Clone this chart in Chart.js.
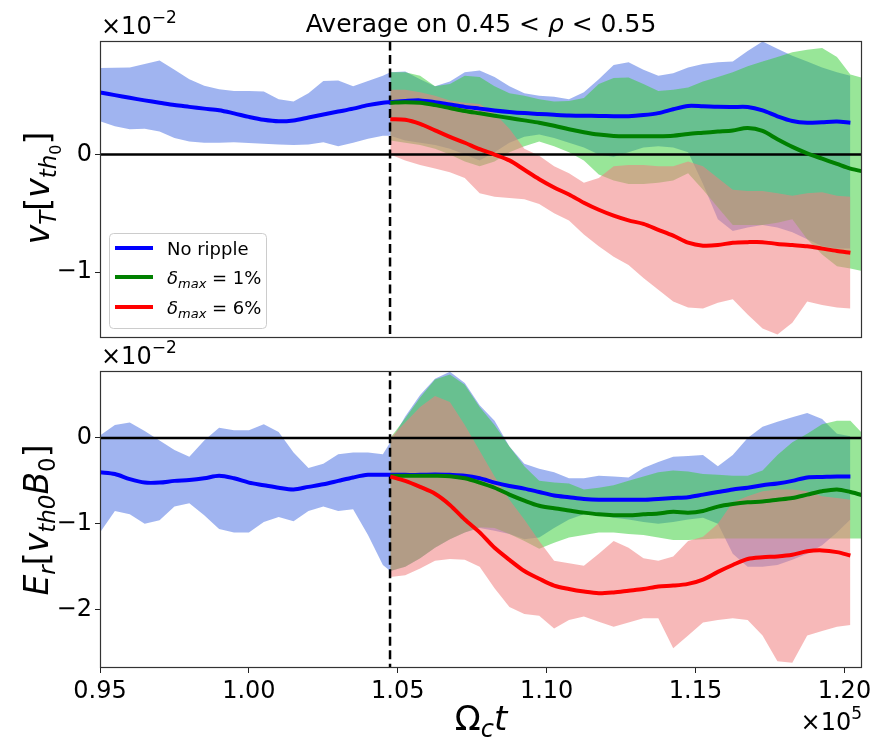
<!DOCTYPE html>
<html>
<head>
<meta charset="utf-8">
<script src="https://cdn.jsdelivr.net/npm/chart.js@4.4.1/dist/chart.umd.min.js"></script>
<style>
  body { margin: 0; background: #fff; }
  #wrap { position: relative; width: 879px; height: 737px; }
  canvas { position: absolute; left: 0; top: 0; }
</style>
</head>
<body>
<div id="wrap">
  <canvas id="cTop" width="879" height="737"></canvas>
  <canvas id="cBot" width="879" height="737"></canvas>
</div>
<script>
/* ---------- time grids (units of 1e5 / Omega_c) ---------- */
const tPre = [0.950, 0.955, 0.960, 0.965, 0.970, 0.975, 0.980, 0.985, 0.990, 0.995,
              1.000, 1.005, 1.010, 1.015, 1.020, 1.025, 1.030, 1.035, 1.040, 1.045];
const tRip = [1.0475, 1.0525, 1.0575, 1.0625, 1.0675, 1.0725, 1.0775, 1.0825, 1.0875, 1.0925,
              1.0975, 1.1025, 1.1075, 1.1125, 1.1175, 1.1225, 1.1275, 1.1325, 1.1375, 1.1425,
              1.1475, 1.1525, 1.1575, 1.1625, 1.1675, 1.1725, 1.1775, 1.1825, 1.1875, 1.1925,
              1.1975, 1.2020];
const tBlue = tPre.concat(tRip);
const tGreen = tRip.concat([1.2075]);
const tRed = tRip;
const tCut = 1.0474;
const xTicks = [0.95, 1.00, 1.05, 1.10, 1.15, 1.20];

/* ---------- top panel: v_T (x1e-2) ---------- */
const vBlue = [0.528, 0.505, 0.482, 0.46, 0.44, 0.42, 0.405, 0.39, 0.377, 0.35,
               0.32, 0.295, 0.282, 0.29, 0.315, 0.34, 0.365, 0.39, 0.42, 0.44,
               0.445, 0.455, 0.46, 0.445, 0.425, 0.405, 0.39, 0.375, 0.362, 0.352,
               0.345, 0.338, 0.332, 0.33, 0.328, 0.326, 0.325, 0.335, 0.352, 0.385,
               0.413, 0.41, 0.405, 0.404, 0.404, 0.375, 0.325, 0.285, 0.27, 0.275,
               0.28, 0.27];
const vBlueHi = [0.735, 0.738, 0.74, 0.77, 0.80, 0.72, 0.64, 0.585, 0.555, 0.54,
                 0.54, 0.535, 0.47, 0.45, 0.52, 0.625, 0.63, 0.58, 0.625, 0.67,
                 0.70, 0.705, 0.64, 0.58, 0.62, 0.70, 0.715, 0.66, 0.58, 0.52,
                 0.50, 0.49, 0.47, 0.53, 0.64, 0.76, 0.785, 0.72, 0.67, 0.69,
                 0.74, 0.77, 0.785, 0.79, 0.88, 0.96, 0.90, 0.84, 0.79, 0.74,
                 0.70, 0.67];
const vBlueLo = [0.282, 0.24, 0.215, 0.22, 0.195, 0.14, 0.11, 0.10, 0.10, 0.104,
                 0.097, 0.092, 0.085, 0.08, 0.085, 0.105, 0.07, 0.10, 0.135, 0.16,
                 0.16, 0.12, 0.10, 0.08, 0.05, 0.0, -0.05, 0.02, 0.10, 0.15,
                 0.17, 0.14, 0.10, 0.06, 0.0, -0.02, 0.02, 0.06, 0.07, 0.06,
                 0.02, -0.25, -0.55, -0.65, -0.62, -0.6, -0.62, -0.66, -0.72, -0.78,
                 -0.8, -0.8];
const vGreen = [0.44, 0.445, 0.44, 0.42, 0.395, 0.37, 0.35, 0.33, 0.31, 0.29,
                0.27, 0.245, 0.215, 0.19, 0.17, 0.158, 0.155, 0.155, 0.155, 0.16,
                0.175, 0.185, 0.195, 0.205, 0.225, 0.2, 0.13, 0.065, 0.01, -0.035,
                -0.08, -0.12, -0.15];
const vGreenHi = [0.70, 0.70, 0.67, 0.58, 0.60, 0.67, 0.66, 0.58, 0.52, 0.50,
                  0.47, 0.45, 0.455, 0.48, 0.60, 0.65, 0.655, 0.60, 0.54, 0.55,
                  0.57, 0.62, 0.66, 0.70, 0.75, 0.79, 0.83, 0.87, 0.89, 0.905,
                  0.83, 0.68, 0.64];
const vGreenLo = [0.12, 0.10, 0.08, 0.05, 0.0, -0.06, -0.1, -0.06, 0.02, 0.07,
                  0.11, 0.07, 0.02, -0.05, -0.17, -0.22, -0.25, -0.25, -0.24, -0.22,
                  -0.16, -0.3, -0.45, -0.6, -0.6, -0.6, -0.58, -0.55, -0.72, -0.85,
                  -0.95, -0.97, -1.0];
const vRed = [0.30, 0.295, 0.26, 0.205, 0.15, 0.10, 0.045, 0.0, -0.05, -0.13,
              -0.21, -0.28, -0.34, -0.41, -0.47, -0.52, -0.56, -0.59, -0.64, -0.69,
              -0.75, -0.775, -0.77, -0.75, -0.745, -0.745, -0.76, -0.77, -0.78, -0.8,
              -0.82, -0.835];
const vRedHi = [0.55, 0.55, 0.53, 0.50, 0.46, 0.44, 0.43, 0.35, 0.22, 0.05,
                -0.01, -0.1, -0.16, -0.24, -0.2, -0.1, -0.09, -0.09, -0.1, -0.1,
                -0.06, -0.1, -0.2, -0.3, -0.31, -0.31, -0.33, -0.35, -0.33, -0.32,
                -0.35, -0.36];
const vRedLo = [0.0, -0.05, -0.09, -0.12, -0.15, -0.2, -0.33, -0.36, -0.37, -0.38,
                -0.42, -0.5, -0.56, -0.68, -0.78, -0.87, -0.94, -1.05, -1.15, -1.25,
                -1.3, -1.31, -1.26, -1.23, -1.36, -1.48, -1.53, -1.43, -1.25, -1.28,
                -1.3, -1.31];

/* ---------- bottom panel: E_r (x1e-2) ---------- */
const eBlue = [-0.40, -0.42, -0.48, -0.52, -0.52, -0.50, -0.49, -0.47, -0.44, -0.47,
               -0.52, -0.55, -0.58, -0.60, -0.57, -0.54, -0.50, -0.46, -0.43, -0.43,
               -0.43, -0.43, -0.43, -0.425, -0.43, -0.44, -0.47, -0.52, -0.56, -0.59,
               -0.63, -0.67, -0.69, -0.71, -0.72, -0.72, -0.72, -0.72, -0.71, -0.70,
               -0.69, -0.66, -0.63, -0.60, -0.58, -0.55, -0.53, -0.50, -0.46, -0.455,
               -0.45, -0.45];
const eBlueHi = [0.03, 0.15, 0.18, 0.08, -0.03, -0.14, -0.22, -0.03, 0.12, 0.09,
                 0.09, 0.16, 0.07, -0.17, -0.35, -0.3, -0.19, -0.17, -0.17, -0.19,
                 -0.05, 0.25, 0.5, 0.69, 0.77, 0.64, 0.38, 0.2, -0.1, -0.3,
                 -0.36, -0.4, -0.47, -0.47, -0.44, -0.45, -0.46, -0.35, -0.28, -0.22,
                 -0.21, -0.20, -0.33, -0.2, 0.0, 0.13, 0.19, 0.24, 0.29, 0.22,
                 0.05, 0.02];
const eBlueLo = [-1.1, -0.85, -0.89, -1.0, -0.96, -0.8, -0.76, -0.9, -1.06, -1.1,
                 -1.1, -0.98, -0.92, -0.97, -0.85, -0.8, -0.85, -0.83, -1.13, -1.48,
                 -1.55, -1.5, -1.4, -1.28, -1.18, -1.1, -1.05, -1.08, -1.12, -1.18,
                 -1.16, -1.05, -0.95, -0.89, -0.9, -0.93, -0.95, -0.98, -1.0, -0.98,
                 -0.95, -0.93, -1.0, -1.35, -1.5, -1.5, -1.48, -1.42, -1.35, -1.25,
                 -1.1, -0.95];
const eGreen = [-0.44, -0.44, -0.44, -0.44, -0.445, -0.47, -0.52, -0.58, -0.66, -0.73,
                -0.79, -0.82, -0.845, -0.87, -0.89, -0.9, -0.9, -0.89, -0.88, -0.86,
                -0.87, -0.85, -0.8, -0.77, -0.75, -0.74, -0.72, -0.7, -0.66, -0.62,
                -0.6, -0.63, -0.68];
const eGreenHi = [0.0, 0.23, 0.47, 0.68, 0.74, 0.62, 0.36, 0.15, -0.1, -0.33,
                  -0.5, -0.52, -0.53, -0.6, -0.58, -0.55, -0.5, -0.45, -0.4, -0.38,
                  -0.39, -0.42, -0.43, -0.44, -0.44, -0.38, -0.2, -0.05, 0.05, 0.16,
                  0.2, 0.2, 0.0];
const eGreenLo = [-1.55, -1.5, -1.4, -1.28, -1.18, -1.1, -1.04, -1.05, -1.12, -1.2,
                  -1.29, -1.22, -1.16, -1.13, -1.1, -1.1, -1.12, -1.13, -1.16, -1.19,
                  -1.19, -1.18, -1.17, -1.17, -1.17, -1.17, -1.17, -1.17, -1.17, -1.17,
                  -1.17, -1.17, -1.17];
const eRed = [-0.45, -0.5, -0.57, -0.65, -0.78, -0.95, -1.1, -1.28, -1.42, -1.55,
              -1.64, -1.72, -1.76, -1.79, -1.81, -1.8, -1.78, -1.76, -1.73, -1.72,
              -1.7, -1.65, -1.56, -1.48, -1.41, -1.39, -1.38, -1.36, -1.32, -1.31,
              -1.33, -1.37];
const eRedHi = [0.0, 0.18, 0.36, 0.49, 0.42, 0.15, -0.15, -0.45, -0.72, -0.95,
                -1.2, -1.43, -1.46, -1.49, -1.35, -1.2, -1.28, -1.4, -1.43, -1.38,
                -1.2, -1.15, -1.0, -0.75, -0.68, -0.62, -0.6, -0.6, -0.62, -0.68,
                -0.7, -0.72];
const eRedLo = [-1.62, -1.6, -1.52, -1.43, -1.41, -1.42, -1.5, -1.75, -1.97, -2.05,
                -2.07, -2.22, -2.12, -2.08, -2.14, -2.2, -2.15, -2.1, -2.1, -2.45,
                -2.3, -2.15, -2.12, -2.1, -2.12, -2.3, -2.6, -2.62, -2.3, -2.25,
                -2.2, -2.18];

const seriesNames = ["No ripple", "1%", "6%"];

/* ---------- styles ---------- */
const FONT = '"DejaVu Sans"';
Chart.defaults.font.family = FONT;
const COL = {
  blue: "#0000ff", green: "#008000", red: "#ff0000",
  blueBand: "rgba(65,105,225,0.5)",
  greenBand: "rgba(50,205,50,0.5)",
  redBand: "rgba(240,128,128,0.55)"
};

const pts = (xs, ys) => xs.map((x, i) => ({ x: x, y: ys[i] }));

function band(xs, hi, lo, color, order) {
  return [
    { data: pts(xs, hi), fill: "+1", backgroundColor: color, borderColor: "rgba(0,0,0,0)",
      borderWidth: 0, pointRadius: 0, tension: 0, order: order },
    { data: pts(xs, lo), fill: false, borderColor: "rgba(0,0,0,0)",
      borderWidth: 0, pointRadius: 0, tension: 0, order: order }
  ];
}
function curve(xs, ys, color, order) {
  return { data: pts(xs, ys), borderColor: color, borderWidth: 4, pointRadius: 0,
           fill: false, tension: 0.3, order: order };
}
function refLines(yMin, yMax) {
  return [
    { data: [{ x: 0.94, y: 0 }, { x: 1.22, y: 0 }], borderColor: "#000", borderWidth: 2.5,
      pointRadius: 0, fill: false, order: 5 },
    { data: [{ x: tCut, y: yMin - 1 }, { x: tCut, y: yMax + 1 }], borderColor: "#000",
      borderWidth: 2.5, borderDash: [9, 4.5], pointRadius: 0, fill: false, order: 4 }
  ];
}

const yFmt = v => (v === 0 ? "0" : (v < 0 ? "\u2212" : "") + Math.abs(v));

function yScale(min, max, ticks) {
  return {
    min: min, max: max,
    afterBuildTicks: s => { s.ticks = ticks.map(v => ({ value: v })); },
    ticks: { callback: yFmt, font: { size: 24 }, color: "#000", padding: 3 },
    grid: { drawOnChartArea: false, tickLength: 5, color: "#222", lineWidth: 1 },
    border: { display: false },
    afterFit: s => { s.width = 100; }
  };
}

/* ---------- text helpers ---------- */
const fontOf = p => (p.it ? "italic " : "") + p.size + "px " + FONT;
function drawRich(ctx, parts, x, y, align) {
  let w = 0;
  parts.forEach(p => { ctx.font = fontOf(p); p.w = ctx.measureText(p.s).width; w += p.w; });
  let cx = align === "center" ? x - w / 2 : align === "right" ? x - w : x;
  ctx.textAlign = "left";
  ctx.textBaseline = "alphabetic";
  parts.forEach(p => { ctx.font = fontOf(p); ctx.fillText(p.s, cx, y + (p.dy || 0)); cx += p.w; });
}
function drawRotated(ctx, parts, x, y) {
  ctx.save();
  ctx.translate(x, y);
  ctx.rotate(-Math.PI / 2);
  drawRich(ctx, parts, 0, 0, "center");
  ctx.restore();
}
function frame(chart) {
  const a = chart.chartArea, ctx = chart.ctx;
  ctx.save();
  ctx.strokeStyle = "#333";
  ctx.lineWidth = 1.2;
  ctx.strokeRect(a.left + 0.5, a.top + 0.5, a.right - a.left - 1, a.bottom - a.top - 1);
  ctx.restore();
}
function offsetLabel(ctx, x, y, exp, align) {
  drawRich(ctx, [
    { s: "\u00d710", size: 24 },
    { s: exp, size: 17, dy: -11 }
  ], x, y, align);
}

/* ---------- decorations ---------- */
const topDecor = {
  id: "topDecor",
  afterDatasetsDraw(chart) { frame(chart); },
  afterDraw(chart) {
    const ctx = chart.ctx;
    ctx.save();
    ctx.fillStyle = "#000";
    drawRich(ctx, [
      { s: "Average on ", size: 25 },
      { s: "0.45 < ", size: 25 },
      { s: "\u03c1", size: 25, it: true },
      { s: " < 0.55", size: 25 }
    ], 481, 32, "center");
    offsetLabel(ctx, 101, 34, "\u22122", "left");
    drawRotated(ctx, [
      { s: "v", size: 33, it: true },
      { s: "T", size: 23, it: true, dy: 7 },
      { s: "[", size: 33 },
      { s: "v", size: 33, it: true },
      { s: "th", size: 23, it: true, dy: 7 },
      { s: "0", size: 16, dy: 12 },
      { s: "]", size: 33 }
    ], 49, 188);

    // legend
    ctx.beginPath();
    ctx.roundRect(109.5, 233.5, 157, 95, 4);
    ctx.fillStyle = "rgba(255,255,255,0.8)";
    ctx.fill();
    ctx.strokeStyle = "#cccccc";
    ctx.lineWidth = 1;
    ctx.stroke();
    const rows = [
      { c: COL.blue, y: 248, parts: [{ s: seriesNames[0], size: 18 }] },
      { c: COL.green, y: 277, parts: [{ s: "\u03b4", size: 18, it: true }, { s: "max", size: 13, it: true, dy: 4 }, { s: " = " + seriesNames[1], size: 18 }] },
      { c: COL.red, y: 307, parts: [{ s: "\u03b4", size: 18, it: true }, { s: "max", size: 13, it: true, dy: 4 }, { s: " = " + seriesNames[2], size: 18 }] }
    ];
    rows.forEach(r => {
      ctx.strokeStyle = r.c;
      ctx.lineWidth = 4;
      ctx.beginPath();
      ctx.moveTo(115, r.y);
      ctx.lineTo(153, r.y);
      ctx.stroke();
      ctx.fillStyle = "#000";
      drawRich(ctx, r.parts, 167, r.y + 6.5, "left");
    });
    ctx.restore();
  }
};

const botDecor = {
  id: "botDecor",
  afterDatasetsDraw(chart) { frame(chart); },
  afterDraw(chart) {
    const ctx = chart.ctx;
    ctx.save();
    ctx.fillStyle = "#000";
    offsetLabel(ctx, 101, 364, "\u22122", "left");
    offsetLabel(ctx, 862, 730, "5", "right");
    drawRotated(ctx, [
      { s: "E", size: 33, it: true },
      { s: "r", size: 23, it: true, dy: 7 },
      { s: "[", size: 33 },
      { s: "v", size: 33, it: true },
      { s: "th0", size: 23, it: true, dy: 7 },
      { s: "B", size: 33, it: true },
      { s: "0", size: 23, dy: 7 },
      { s: "]", size: 33 }
    ], 48, 520);
    drawRich(ctx, [
      { s: "\u03a9", size: 34 },
      { s: "c", size: 24, it: true, dy: 7 },
      { s: "t", size: 34, it: true }
    ], 481, 730, "center");
    ctx.restore();
  }
};

const baseOpts = {
  responsive: false, animation: false, devicePixelRatio: 1, events: [],
  plugins: { legend: { display: false }, tooltip: { enabled: false } }
};

/* ---------- top chart ---------- */
new Chart(document.getElementById("cTop"), {
  type: "line",
  data: {
    datasets: [
      ...band(tBlue, vBlueHi, vBlueLo, COL.blueBand, 30),
      ...band(tGreen, vGreenHi, vGreenLo, COL.greenBand, 20),
      ...band(tRed, vRedHi, vRedLo, COL.redBand, 10),
      ...refLines(-1.56, 0.965),
      curve(tBlue, vBlue, COL.blue, 3),
      curve(tGreen, vGreen, COL.green, 2),
      curve(tRed, vRed, COL.red, 1)
    ]
  },
  options: Object.assign({}, baseOpts, {
    layout: { padding: { left: 0, right: 17, top: 41, bottom: 399 } },
    scales: {
      x: { type: "linear", min: 0.95, max: 1.2059, display: false },
      y: yScale(-1.56, 0.965, [-1, 0])
    }
  }),
  plugins: [topDecor]
});

/* ---------- bottom chart ---------- */
new Chart(document.getElementById("cBot"), {
  type: "line",
  data: {
    datasets: [
      ...band(tBlue, eBlueHi, eBlueLo, COL.blueBand, 30),
      ...band(tGreen, eGreenHi, eGreenLo, COL.greenBand, 20),
      ...band(tRed, eRedHi, eRedLo, COL.redBand, 10),
      ...refLines(-2.68, 0.78),
      curve(tBlue, eBlue, COL.blue, 3),
      curve(tGreen, eGreen, COL.green, 2),
      curve(tRed, eRed, COL.red, 1)
    ]
  },
  options: Object.assign({}, baseOpts, {
    layout: { padding: { left: 0, right: 17, top: 371, bottom: 29 } },
    scales: {
      x: {
        type: "linear", min: 0.95, max: 1.2059,
        afterBuildTicks: s => { s.ticks = xTicks.map(v => ({ value: v })); },
        ticks: { callback: v => v.toFixed(2), font: { size: 24 }, color: "#000",
                 padding: 4, maxRotation: 0, autoSkip: false },
        grid: { drawOnChartArea: false, tickLength: 5, color: "#222", lineWidth: 1 },
        border: { display: false },
        afterFit: s => { s.height = 40; s.paddingLeft = 0; s.paddingRight = 0; }
      },
      y: yScale(-2.68, 0.78, [-2, -1, 0])
    }
  }),
  plugins: [botDecor]
});
</script>
</body>
</html>
